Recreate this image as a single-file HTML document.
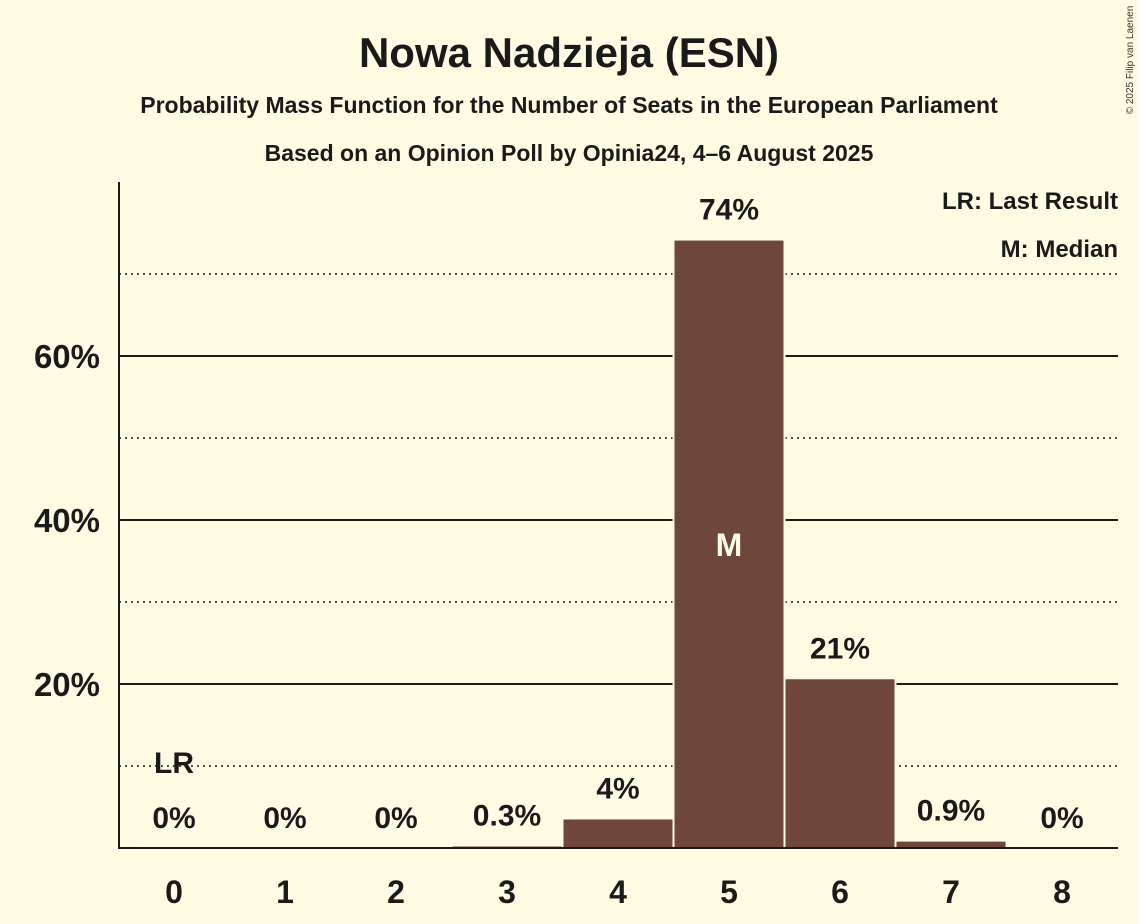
<!DOCTYPE html>
<html><head><meta charset="utf-8"><style>
body{margin:0;background:#FFFCE3;}
svg{display:block;font-family:"Liberation Sans",sans-serif;font-weight:bold;}
</style></head><body>
<svg id="chart" width="1139" height="924" xmlns="http://www.w3.org/2000/svg">
<rect width="1139" height="924" fill="#FFFCE3"/>
<text x="569" y="67" font-size="42" text-anchor="middle" fill="#1a1a1a">Nowa Nadzieja (ESN)</text>
<text x="569" y="113" font-size="23" text-anchor="middle" fill="#1a1a1a">Probability Mass Function for the Number of Seats in the European Parliament</text>
<text x="569" y="161" font-size="23" text-anchor="middle" fill="#1a1a1a">Based on an Opinion Poll by Opinia24, 4–6 August 2025</text>
<text x="1133" y="60" font-size="10" font-weight="normal" fill="#333" transform="rotate(-90 1133 60)" text-anchor="middle">© 2025 Filip van Laenen</text>
<text x="1118" y="209" font-size="24" text-anchor="end" fill="#1a1a1a">LR: Last Result</text>
<text x="1118" y="257" font-size="24" text-anchor="end" fill="#1a1a1a">M: Median</text>
<g id="grid"></g><g id="bars"></g><g id="labels"></g>
<line x1="119" y1="182" x2="119" y2="849" stroke="#1a1a1a" stroke-width="2"/>
<line x1="118" y1="848" x2="1118" y2="848" stroke="#1a1a1a" stroke-width="2"/>
</svg>
<script>
const categories=[0,1,2,3,4,5,6,7,8];
const values=[0,0,0,0.3,3.6,74.2,20.7,0.9,0];
const valueLabels=["0%","0%","0%","0.3%","4%","74%","21%","0.9%","0%"];
const yTicks=[20,40,60];
const yMinor=[10,30,50,70];
const yTickLabels=["20%","40%","60%"];
const lastResult=0, median=5;
const NS="http://www.w3.org/2000/svg";
const y=v=>848-v*8.2;
const x=c=>174+c*111;
function mk(t,a,p){const e=document.createElementNS(NS,t);for(const k in a)e.setAttribute(k,a[k]);p.appendChild(e);return e;}
const grid=document.getElementById('grid'),bars=document.getElementById('bars'),labels=document.getElementById('labels');
yMinor.forEach(v=>{const l=mk('line',{x1:119,x2:1118,y1:y(v),y2:y(v),stroke:'#1a1a1a','stroke-width':1.5,'stroke-dasharray':'2,4'},grid);

});
yTicks.forEach((v,i)=>{const l=mk('line',{x1:119,x2:1118,y1:y(v),y2:y(v),stroke:'#1a1a1a','stroke-width':2},grid);


const t=mk('text',{x:100,y:y(v)+12,'font-size':33,'text-anchor':'end',fill:'#1a1a1a'},labels);t.textContent=yTickLabels[i];

});
categories.forEach((c,i)=>{
 const v=values[i];
 if(v>0){const r=mk('rect',{x:x(c)-55.5,y:y(v),width:111,height:848-y(v),fill:'#6F463A',stroke:'#FFFCE3','stroke-width':2},bars);
 
 }
 const t=mk('text',{x:x(c),y:903,'font-size':32,'text-anchor':'middle',fill:'#1a1a1a'},labels);t.textContent=c;
 
 
 const vl=mk('text',{x:x(c),y:y(v)-20,'font-size':30,'text-anchor':'middle',fill:'#1a1a1a'},labels);vl.textContent=valueLabels[i];
 
 
 if(c===median){const m=mk('text',{x:x(c),y:y(v/2)+12,'font-size':32,'text-anchor':'middle',fill:'#FFFCE3'},labels);m.textContent='M';
 
 }
 if(c===lastResult){const m=mk('text',{x:x(c),y:773,'font-size':30,'text-anchor':'middle',fill:'#1a1a1a'},labels);m.textContent='LR';
 
 }
});
</script>
</body></html>
